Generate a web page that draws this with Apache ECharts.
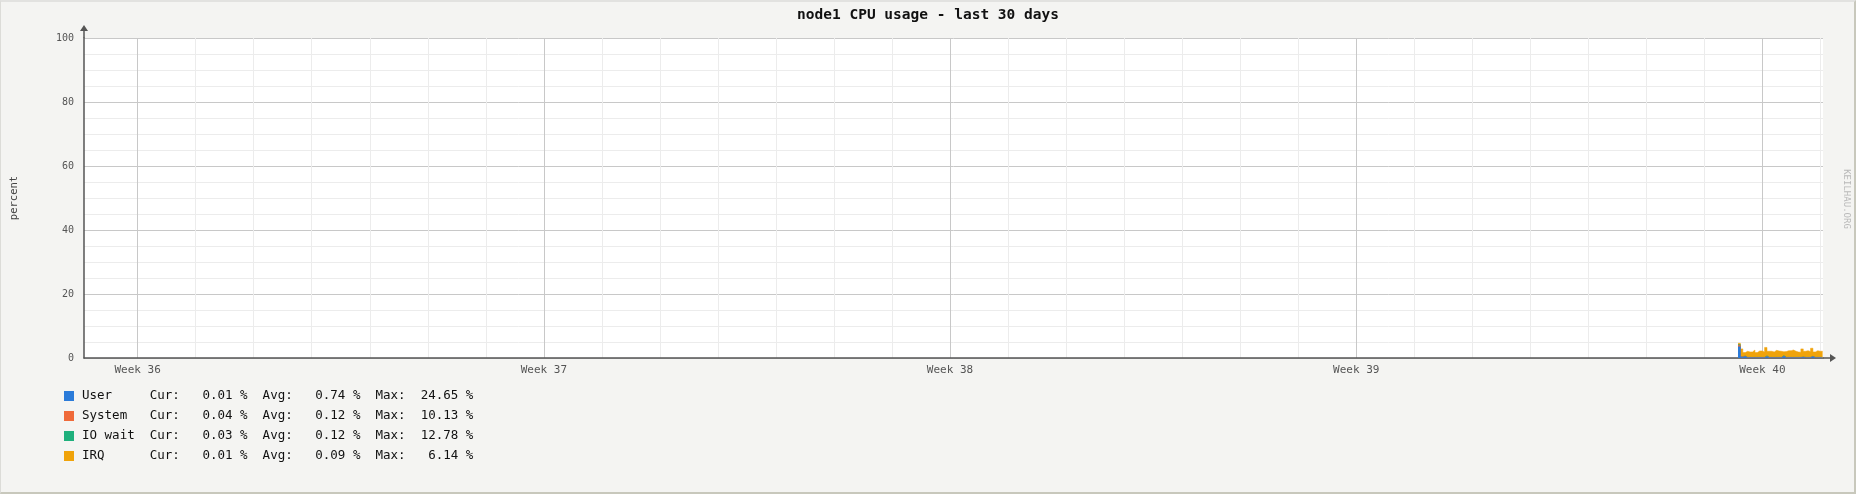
<!DOCTYPE html>
<html>
<head>
<meta charset="utf-8">
<script src="https://cdn.jsdelivr.net/npm/echarts@6/dist/echarts.min.js"></script>
<style>
html,body{margin:0;padding:0;background:#f4f4f2;}
#wrap{position:relative;width:1856px;height:494px;}
#chart{position:absolute;left:0;top:0;width:1856px;height:494px;}
#frame{position:absolute;left:0;top:0;width:1856px;height:494px;box-sizing:border-box;
  border-top:2px solid #e2e2e0;border-left:1px solid #dcdcd8;border-right:2px solid #c8c8bc;border-bottom:2px solid #c8c8bc;pointer-events:none;}
</style>
</head>
<body>
<div id="wrap"><div id="chart"></div><div id="frame"></div></div>
<script>
// ---- data (times in days measured from start of Week 36) ----
const weekLabels = ['Week 36', 'Week 37', 'Week 38', 'Week 39', 'Week 40'];
const weekStarts = [0, 7, 14, 21, 28];
const dayLines = [0,1,2,3,4,5,6,7,8,9,10,11,12,13,14,15,16,17,18,19,20,21,22,23,24,25,26,27,28,29];
const seriesNames = ['User', 'System', 'IO wait', 'IRQ'];
const seriesColors = ['#2b7bd9', '#ef6a3a', '#1fb07c', '#f0a30a'];
const curValues = ['0.01', '0.04', '0.03', '0.01'];
const avgValues = ['0.74', '0.12', '0.12', '0.09'];
const maxValues = ['24.65', '10.13', '12.78', '6.14'];
const dataStart = 27.58;     // first sample (days)
const stepDays = 1 / 24;     // hourly samples
const userValues   = [3.5,0.2,0.5,0.1,0.1,0.1,0.1,0.1,0.1,0.1,0.1,0.4,0.1,0.1,0.1,0.1,0.1,0.1,0.5,0.1,0.1,0.1,0.1,0.1,0.1,0.1,0.2,0.1,0.1,0.1,0.4,0.1,0.1,0.1,0.1,0.1];
const systemValues = [0.5,0.2,0.05,0.05,0.05,0.05,0.05,0.05,0.05,0.05,0.05,0.1,0.05,0.05,0.05,0.05,0.05,0.05,0.05,0.05,0.05,0.05,0.05,0.05,0.05,0.05,0.1,0.05,0.05,0.05,0.1,0.05,0.05,0.05,0.05,0.05];
const iowaitValues = [0.2,0.05,0.05,0.05,0.05,0.05,0.05,0.05,0.05,0.05,0.05,0.2,0.05,0.05,0.05,0.05,0.05,0.05,0.2,0.05,0.05,0.05,0.05,0.05,0.05,0.05,0.05,0.05,0.05,0.05,0.05,0.05,0.05,0.05,0.05,0.05];
const irqValues    = [0.4,2.4,1.1,1.9,1.7,1.7,2.3,1.5,2.0,2.0,1.7,2.6,1.9,1.9,1.7,2.2,2.0,1.9,1.2,1.8,2.1,2.1,2.3,1.9,1.7,1.6,2.5,1.9,2.1,1.8,2.5,1.7,2.1,1.9,1.9,1.8];
const xMin = -0.925, xMax = 29.045;

const mono = "'DejaVu Sans Mono', monospace";
const allValues = [userValues, systemValues, iowaitValues, irqValues];

// Stacked areas: each layer is drawn from zero up to the running total,
// lower layers painted on top of the upper ones.
function cumulative(k) {
  return userValues.map((_, i) => {
    let s = 0;
    for (let j = 0; j <= k; j++) s += allValues[j][i];
    return [dataStart + i * stepDays, +s.toFixed(3)];
  });
}

const series = seriesNames.map((name, k) => ({
  name: name,
  type: 'line',
  step: 'end',
  symbol: 'none',
  xAxisIndex: 0,
  color: seriesColors[k],
  lineStyle: { width: 0.5, color: seriesColors[k] },
  areaStyle: { color: seriesColors[k], opacity: 1, origin: 'start' },
  data: cumulative(k),
  z: 10 - k
}));

const arrowPath = 'path://M4,0 L8,6 L4.75,6 L4.75,13 L3.25,13 L3.25,6 L0,6 Z';

const option = {
  animation: false,
  backgroundColor: 'transparent',
  title: {
    text: 'node1 CPU usage - last 30 days',
    left: 'center',
    top: 3,
    textStyle: { fontFamily: mono, fontSize: 14.5, fontWeight: 'bold', color: '#111' }
  },
  grid: {
    left: 84, top: 38, right: 33, height: 320,
    show: true, backgroundColor: '#ffffff', borderWidth: 0
  },
  legend: {
    orient: 'vertical',
    left: 64,
    top: 386,
    padding: 0,
    itemWidth: 10,
    itemHeight: 10,
    itemGap: 0,
    icon: 'rect',
    selectedMode: false,
    data: seriesNames,
    textStyle: { fontFamily: mono, fontSize: 12.5, color: '#111', lineHeight: 20, padding: [0, 0, 0, 3] },
    formatter: function (name) {
      const k = seriesNames.indexOf(name);
      return name.padEnd(9) + 'Cur:' + curValues[k].padStart(7) + ' %  Avg:' +
        avgValues[k].padStart(7) + ' %  Max:' + maxValues[k].padStart(7) + ' %';
    }
  },
  xAxis: [
    {
      type: 'value', min: xMin, max: xMax, z: 1,
      axisLine: { show: true, onZero: false, lineStyle: { color: '#555', width: 1.5 },
        symbol: ['none', arrowPath], symbolSize: [8, 13], symbolOffset: [0, 6.5] },
      axisTick: { show: false, customValues: weekStarts },
      axisLabel: { show: true, customValues: weekStarts, fontFamily: mono, fontSize: 11, color: '#555', margin: 7,
        formatter: function (v) { const i = weekStarts.indexOf(Math.round(v)); return i >= 0 ? weekLabels[i] : ''; } },
      splitLine: { show: true, lineStyle: { color: '#c8c8c8', width: 1 } }
    },
    {
      type: 'value', min: xMin, max: xMax, z: 0,
      axisLine: { show: false },
      axisTick: { show: false, customValues: dayLines },
      axisLabel: { show: false },
      splitLine: { show: true, lineStyle: { color: '#ececec', width: 1 } }
    }
  ],
  yAxis: {
    type: 'value', min: 0, max: 100, interval: 20,
    name: 'percent', nameLocation: 'middle', nameRotate: 90, nameGap: 64,
    nameTextStyle: { fontFamily: mono, fontSize: 10.5, color: '#444' },
    axisLine: { show: true, onZero: false, lineStyle: { color: '#555', width: 1.5 },
      symbol: ['none', arrowPath], symbolSize: [8, 13], symbolOffset: [0, 6.5] },
    axisTick: { show: false },
    axisLabel: { fontFamily: mono, fontSize: 10, color: '#555', margin: 10 },
    splitLine: { show: true, lineStyle: { color: '#c8c8c8', width: 1 } },
    minorTick: { show: false, splitNumber: 4 },
    minorSplitLine: { show: true, lineStyle: { color: '#ececec', width: 1 } }
  },
  graphic: [
    {
      type: 'text', x: 1846, y: 199, rotation: -Math.PI / 2,
      style: { text: 'KEILHAU.ORG', fontFamily: mono, fontSize: 9, fill: '#b8b8b8', align: 'center', verticalAlign: 'middle' },
      silent: true
    }
  ],
  series: series
};

const chart = echarts.init(document.getElementById('chart'), null, { renderer: 'canvas' });
chart.setOption(option);
</script>
</body>
</html>
